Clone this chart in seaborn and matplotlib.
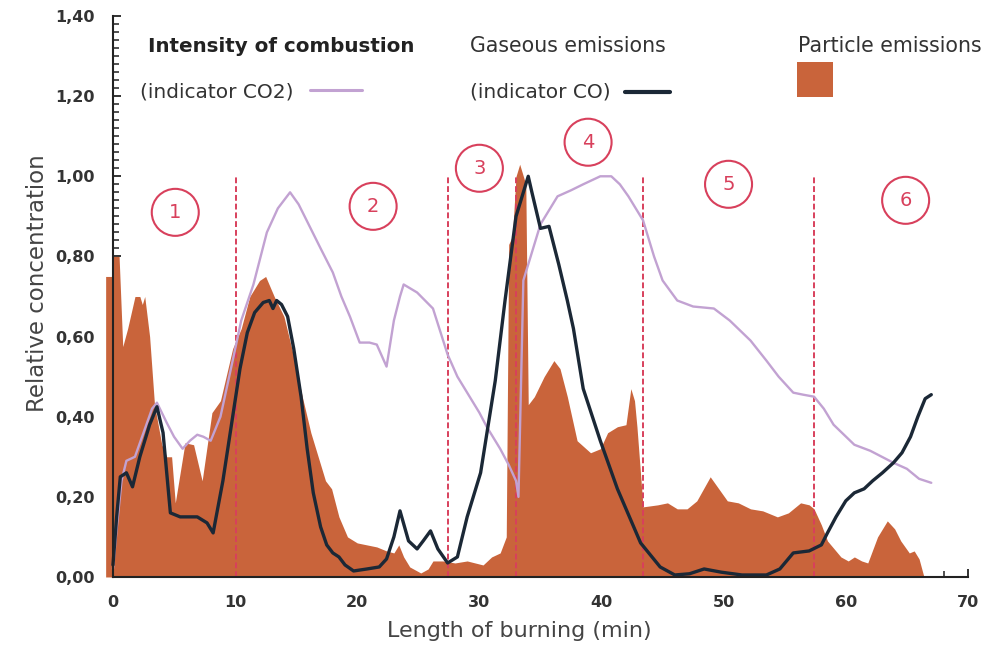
import numpy as np
import pandas as pd
import matplotlib
matplotlib.use('Agg')
import matplotlib.pyplot as plt
import seaborn as sns
from matplotlib.ticker import MultipleLocator, FuncFormatter
from matplotlib.patches import Rectangle

# particle emissions (area)
pm_t = [-0.6, -0.05, 0.0, 0.5, 0.8, 1.2, 1.8, 2.2, 2.4, 2.6, 3.0, 3.4, 4.0, 4.4, 4.8, 5.1,
        5.5, 5.9, 6.6, 7.3, 8.1, 8.8, 9.8, 10.5, 11.2, 12.0, 12.5, 13.2, 14.0, 14.8, 15.5,
        16.2, 16.8, 17.4, 17.9, 18.5, 19.2, 20.0, 20.8, 21.6, 22.4, 23.0, 23.4, 23.8, 24.3,
        25.2, 25.8, 26.2, 27.0, 28.0, 29.0, 30.3, 31.0, 31.7, 32.2, 32.4, 32.7, 33.0, 33.3,
        33.8, 34.0, 34.5, 35.3, 36.1, 36.6, 37.2, 38.0, 39.1, 39.9, 40.5, 41.3, 42.0, 42.4,
        42.7, 42.9, 43.4, 44.6, 45.4, 46.2, 47.0, 47.8, 48.9, 49.6, 50.3, 51.2, 52.2, 53.2,
        54.4, 55.3, 56.3, 57.0, 57.4, 58.0, 58.5, 59.6, 60.2, 60.7, 61.3, 61.8, 62.6, 63.4,
        64.0, 64.5, 65.2, 65.6, 66.0, 66.4]
pm_v = [0.75, 0.75, 0.80, 0.80, 0.575, 0.62, 0.70, 0.70, 0.68, 0.70, 0.60, 0.43, 0.33, 0.30,
        0.30, 0.185, 0.26, 0.335, 0.33, 0.24, 0.41, 0.44, 0.57, 0.62, 0.70, 0.74, 0.75, 0.70,
        0.65, 0.55, 0.45, 0.36, 0.30, 0.24, 0.22, 0.15, 0.10, 0.085, 0.08, 0.075, 0.065, 0.06,
        0.08, 0.05, 0.025, 0.01, 0.02, 0.04, 0.04, 0.035, 0.04, 0.03, 0.05, 0.06, 0.10, 0.83,
        0.85, 1.00, 1.03, 0.98, 0.43, 0.45, 0.50, 0.54, 0.52, 0.45, 0.34, 0.31, 0.32, 0.36,
        0.375, 0.38, 0.47, 0.44, 0.375, 0.175, 0.18, 0.185, 0.17, 0.17, 0.19, 0.25, 0.22, 0.19,
        0.185, 0.17, 0.165, 0.15, 0.16, 0.185, 0.18, 0.17, 0.13, 0.09, 0.05, 0.04, 0.05, 0.04,
        0.035, 0.10, 0.14, 0.12, 0.09, 0.06, 0.065, 0.045, 0.0]

# CO (gaseous emissions)
co_t = [0.0, 0.3, 0.6, 1.1, 1.6, 2.2, 3.0, 3.6, 4.1, 4.7, 5.5, 6.9, 7.7, 8.2, 9.0, 9.8, 10.4,
        11.0, 11.6, 12.3, 12.8, 13.1, 13.4, 13.8, 14.3, 14.8, 15.4, 15.9, 16.4, 17.0, 17.5,
        18.0, 18.5, 19.0, 19.7, 20.8, 21.8, 22.4, 23.0, 23.5, 24.2, 24.9, 25.4, 26.0, 26.6,
        27.4, 28.2, 29.0, 30.1, 31.3, 32.1, 33.0, 33.5, 34.0, 34.3, 35.0, 35.7, 36.5, 37.2,
        37.7, 38.5, 39.9, 41.3, 43.2, 44.8, 46.0, 47.2, 48.4, 49.8, 51.5, 53.5, 54.6, 55.7,
        57.0, 58.0, 58.5, 59.2, 60.0, 60.7, 61.5, 62.2, 63.0, 63.9, 64.6, 65.3, 65.9, 66.5,
        67.0]
co_v = [0.03, 0.15, 0.25, 0.26, 0.225, 0.30, 0.38, 0.425, 0.36, 0.16, 0.15, 0.15, 0.135, 0.11,
        0.24, 0.40, 0.52, 0.61, 0.66, 0.685, 0.69, 0.67, 0.69, 0.68, 0.65, 0.57, 0.45, 0.32,
        0.21, 0.125, 0.08, 0.06, 0.05, 0.03, 0.015, 0.02, 0.025, 0.045, 0.10, 0.165, 0.09,
        0.07, 0.09, 0.115, 0.07, 0.035, 0.05, 0.15, 0.26, 0.49, 0.69, 0.90, 0.95, 1.00, 0.96,
        0.87, 0.875, 0.78, 0.69, 0.62, 0.47, 0.34, 0.22, 0.085, 0.025, 0.005, 0.008, 0.02,
        0.012, 0.005, 0.005, 0.02, 0.06, 0.065, 0.08, 0.11, 0.15, 0.19, 0.21, 0.22, 0.24,
        0.26, 0.285, 0.31, 0.35, 0.40, 0.445, 0.455]

# CO2 (intensity of combustion)
co2_t = [0.0, 0.3, 0.7, 1.1, 1.8, 2.5, 3.2, 3.6, 4.4, 5.0, 5.7, 6.3, 6.9, 7.4, 8.0, 8.8, 9.8,
         10.5, 11.5, 12.6, 13.5, 14.5, 15.2, 16.1, 17.0, 18.0, 18.7, 19.4, 20.2, 21.0, 21.6,
         22.4, 23.0, 23.5, 23.8, 24.9, 26.2, 27.4, 28.2, 29.0, 30.0, 30.6, 31.7, 32.4, 33.0,
         33.2, 33.6, 34.4, 35.0, 36.4, 37.5, 38.5, 39.9, 40.8, 41.5, 42.2, 43.4, 44.3, 45.0,
         46.2, 47.5, 49.2, 50.5, 52.2, 53.5, 54.5, 55.7, 56.5, 57.4, 58.2, 59.0, 60.7, 62.0,
         63.9, 65.0, 66.0, 67.0]
co2_v = [0.02, 0.12, 0.24, 0.29, 0.30, 0.36, 0.42, 0.435, 0.385, 0.35, 0.32, 0.34, 0.355, 0.35,
         0.34, 0.40, 0.54, 0.64, 0.73, 0.86, 0.92, 0.96, 0.93, 0.875, 0.82, 0.76, 0.70, 0.65,
         0.585, 0.585, 0.58, 0.525, 0.64, 0.70, 0.73, 0.71, 0.67, 0.555, 0.50, 0.46, 0.41,
         0.375, 0.32, 0.28, 0.24, 0.20, 0.74, 0.82, 0.88, 0.95, 0.965, 0.98, 1.0, 1.0, 0.98,
         0.95, 0.89, 0.80, 0.74, 0.69, 0.675, 0.67, 0.64, 0.59, 0.54, 0.50, 0.46, 0.455, 0.45,
         0.42, 0.38, 0.33, 0.315, 0.285, 0.27, 0.245, 0.235]

phase_bounds = [10.1, 27.4, 33.0, 43.4, 57.4]
phase_labels = ['1', '2', '3', '4', '5', '6']
phase_x = [5.1, 21.3, 30.0, 38.9, 50.4, 64.9]
phase_y = [0.91, 0.925, 1.02, 1.085, 0.98, 0.94]

ORANGE = '#c9643b'
CO_COL = '#1b2836'
CO2_COL = '#c2a2d2'
RED = '#d8405c'

sns.set_theme(style='white')
plt.rcParams['font.family'] = ['DejaVu Sans']

co_df = pd.DataFrame({'t': co_t, 'v': co_v})
co2_df = pd.DataFrame({'t': co2_t, 'v': co2_v})

fig = plt.figure(figsize=(10.07, 6.48), dpi=100)
ax = fig.add_axes([0.1037, 0.1096, 0.8575, 0.8657])

ax.fill_between(pm_t, pm_v, 0, color=ORANGE, lw=0, zorder=1)
for xb in phase_bounds:
    ax.plot([xb, xb], [0, 1.0], color=RED, ls=(0, (3, 1.5)), lw=1.4, zorder=2)
sns.lineplot(data=co2_df, x='t', y='v', color=CO2_COL, lw=1.7, ax=ax, zorder=3)
sns.lineplot(data=co_df, x='t', y='v', color=CO_COL, lw=2.4, ax=ax, zorder=4)

for lab, xx, yy in zip(phase_labels, phase_x, phase_y):
    ax.text(xx, yy, lab, color=RED, fontsize=14, ha='center', va='center',
            bbox=dict(boxstyle='circle,pad=0.72', fc='white', ec=RED, lw=1.5), zorder=5)

# legend-like annotations
ax.text(2.9, 1.325, 'Intensity of combustion', fontsize=14.3, fontweight='bold',
        color='#222222', va='center')
ax.text(2.2, 1.21, '(indicator CO2)', fontsize=14.5, color='#333333', va='center')
ax.plot([16.1, 20.4], [1.215, 1.215], color=CO2_COL, lw=2.2)
ax.text(29.2, 1.325, 'Gaseous emissions', fontsize=14.8, color='#333333', va='center')
ax.text(29.2, 1.21, '(indicator CO)', fontsize=14.5, color='#333333', va='center')
ax.plot([41.9, 45.6], [1.21, 1.21], color=CO_COL, lw=3)
ax.text(56.1, 1.325, 'Particle emissions', fontsize=14.8, color='#333333', va='center')
ax.add_patch(Rectangle((0.802, 0.856), 0.0417, 0.062, transform=ax.transAxes,
                       color=ORANGE, lw=0))

ax.set_xlim(-0.7, 70)
ax.set_ylim(0, 1.4)
ax.spines['top'].set_visible(False)
ax.spines['right'].set_visible(False)
ax.spines['left'].set_position(('data', 0))
ax.spines['left'].set_bounds(0, 1.4)
ax.spines['bottom'].set_bounds(0, 70)
for s in ['left', 'bottom']:
    ax.spines[s].set_color('#222222')
    ax.spines[s].set_linewidth(1.5)
    ax.spines[s].set_zorder(6)

ax.xaxis.set_major_locator(MultipleLocator(10))
ax.xaxis.set_minor_locator(MultipleLocator(2))
ax.yaxis.set_major_locator(MultipleLocator(0.2))
ax.yaxis.set_minor_locator(MultipleLocator(0.02))
ax.yaxis.set_major_formatter(FuncFormatter(lambda v, p: ('%.2f' % v).replace('.', ',')))
ax.tick_params(axis='both', which='both', direction='in', color='#222222',
               bottom=True, left=True)
ax.tick_params(axis='both', which='major', length=6, width=1.3, labelsize=11.5,
               labelcolor='#333333')
ax.tick_params(axis='x', which='major', pad=13)
ax.tick_params(axis='y', which='major', pad=13)
ax.tick_params(axis='both', which='minor', length=4, width=1.1)
for lbl in ax.get_xticklabels() + ax.get_yticklabels():
    lbl.set_fontweight('bold')

ax.set_xlabel('Length of burning (min)', fontsize=16, color='#444444')
ax.set_ylabel('Relative concentration', fontsize=16.5, color='#444444')
ax.xaxis.set_label_coords(0.481, -0.078)
ax.yaxis.set_label_coords(-0.064, 0.524)

fig.savefig('out.png', dpi=100)
